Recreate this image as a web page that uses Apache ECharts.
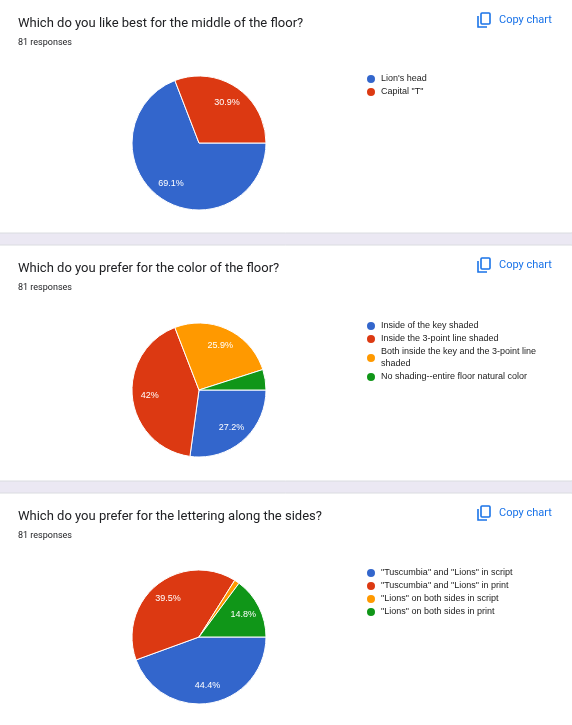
<!DOCTYPE html>
<html><head><meta charset="utf-8">
<script src="https://cdn.jsdelivr.net/npm/echarts@6/dist/echarts.min.js"></script>
<style>html,body{margin:0;padding:0;background:#ebe8f3}#c{width:572px;height:725px}</style>
</head><body><div id="c"></div>
<script>
const titles = ["Which do you like best for the middle of the floor?","Which do you prefer for the color of the floor?","Which do you prefer for the lettering along the sides?"];
const responses = "81 responses";
const cats1 = ["Lion's head","Capital \"T\""];
const vals1 = [56,25];
const cats2 = ["Inside of the key shaded","Inside the 3-point line shaded","Both inside the key and the 3-point line shaded","No shading--entire floor natural color"];
const vals2 = [22,34,21,4];
const cats3 = ["\"Tuscumbia\" and \"Lions\" in script","\"Tuscumbia\" and \"Lions\" in print","\"Lions\" on both sides in script","\"Lions\" on both sides in print"];
const vals3 = [36,32,1,12];
const colors = ['#3366cc','#dc3912','#ff9900','#109618'];
const font = '"Liberation Sans", Arial, sans-serif';
const tfont = 'Roboto, Arial, sans-serif';

const sets = [[cats1,vals1],[cats2,vals2],[cats3,vals3]];
const cardTop = [-10,245,493], cardH=[243,236,245];
const offs = [0,247,494];
const series=[], legends=[], graphic=[];
sets.forEach(([cats,vals],i)=>{
  const cy = 143+offs[i];
  graphic.push({type:'rect',shape:{x:-8,y:cardTop[i],width:587,height:cardH[i],r:8},style:{fill:'#fff',stroke:'#dadce0',lineWidth:1},z:-1});
  const ty = [0,245,493][i];
  graphic.push({type:'text',x:18,y:ty+17,style:{text:titles[i],font:'13px '+tfont,fill:'#202124'}});
  graphic.push({type:'text',x:18,y:ty+38,style:{text:responses,font:'9px '+tfont,fill:'#202124'}});
  graphic.push({type:'text',x:499,y:ty+15,style:{text:'Copy chart',font:'11px '+tfont,fill:'#1a73e8'}});
  graphic.push({type:'rect',shape:{x:481,y:ty+13,width:9,height:11,r:1},style:{fill:'none',stroke:'#1a73e8',lineWidth:1.6}});
  graphic.push({type:'polyline',shape:{points:[[478,ty+16],[478,ty+27],[487,ty+27]]},style:{fill:'none',stroke:'#1a73e8',lineWidth:1.6}});
  const total = vals.reduce((a,b)=>a+b,0);
  series.push({type:'pie',center:[199,cy],radius:[0,67],startAngle:0,clockwise:true,silent:true,
    data:cats.map((c,j)=>({name:c,value:vals[j],itemStyle:{color:colors[j]}})),
    itemStyle:{borderColor:'#fff',borderWidth:1},label:{show:false},labelLine:{show:false}});
  series.push({type:'pie',center:[199,cy],radius:[0,93],startAngle:0,clockwise:true,silent:true,
    data:cats.map((c,j)=>({name:'_'+i+'_'+j,value:vals[j],itemStyle:{color:'transparent'}})),
    label:{show:true,position:'inside',color:'#fff',fontSize:9,fontFamily:font,
      formatter:p=>{const v=p.value/total*100;return v<5?'':(+v.toFixed(1))+'%';}},labelLine:{show:false}});
  legends.push({data:cats,left:360,top:cy-75,orient:'vertical',icon:'circle',itemWidth:10,itemHeight:10,itemGap:1,
    selectedMode:false,formatter:n=>n==='Both inside the key and the 3-point line shaded'?'Both inside the key and the 3-point line\nshaded':n,
    textStyle:{fontSize:9,fontFamily:font,color:'#222',lineHeight:12}});
});
const chart = echarts.init(document.getElementById('c'));
chart.setOption({animation:false,legend:legends,series,graphic});
</script></body></html>
